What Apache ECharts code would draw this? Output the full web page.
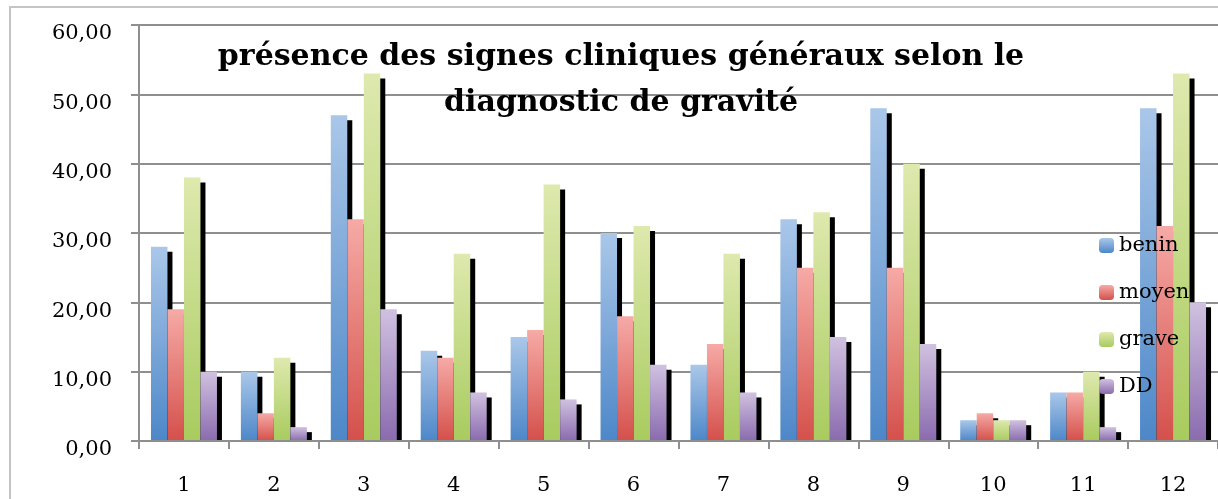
<!DOCTYPE html>
<html>
<head>
<meta charset="utf-8">
<script src="https://cdn.jsdelivr.net/npm/echarts@6/dist/echarts.min.js"></script>
<style>
  html, body { margin: 0; padding: 0; background: #fff; }
  #chart { width: 1218px; height: 499px; }
</style>
</head>
<body>
<div id="chart"></div>
<script>
var categories = ['1', '2', '3', '4', '5', '6', '7', '8', '9', '10', '11', '12'];
var benin = [28, 10, 47, 13, 15, 30, 11, 32, 48, 3, 7, 48];
var moyen = [19, 4, 32, 12, 16, 18, 14, 25, 25, 4, 7, 31];
var grave = [38, 12, 53, 27, 37, 31, 27, 33, 40, 3, 10, 53];
var dd = [10, 2, 19, 7, 6, 11, 7, 15, 14, 3, 2, 20];
var titleLines = ['présence des signes cliniques généraux selon le', 'diagnostic de gravité'];

function grad(top, bottom) {
    return new echarts.graphic.LinearGradient(0, 0, 0, 1, [
        { offset: 0, color: top },
        { offset: 1, color: bottom }
    ]);
}

function makeSeries(name, data, top, bottom) {
    return {
        name: name,
        type: 'bar',
        data: data,
        barWidth: 16.5,
        barGap: '0%',
        itemStyle: {
            color: grad(top, bottom),
            shadowColor: '#000',
            shadowBlur: 0,
            shadowOffsetX: 5,
            shadowOffsetY: 5
        },
        emphasis: { disabled: true }
    };
}

var chart = echarts.init(document.getElementById('chart'));

chart.setOption({
    animation: false,
    backgroundColor: '#fff',
    title: {
        text: titleLines.join('\n'),
        left: 616,
        top: 29,
        textAlign: 'center',
        textStyle: {
            fontFamily: 'DejaVu Serif',
            fontWeight: 'bold',
            fontSize: 30,
            lineHeight: 46,
            color: '#000'
        }
    },
    legend: {
        orient: 'vertical',
        left: 1094,
        top: 230,
        itemWidth: 15,
        itemHeight: 15,
        itemGap: 26,
        textStyle: { fontFamily: 'DejaVu Serif', fontSize: 21, color: '#000' },
        itemStyle: { shadowBlur: 0, shadowOffsetX: 0, shadowOffsetY: 0, shadowColor: 'transparent' },
        data: ['benin', 'moyen', 'grave', 'DD']
    },
    graphic: [{
        type: 'rect',
        shape: { x: 10, y: 7, width: 1400, height: 700 },
        style: { fill: 'none', stroke: '#c4c4c4', lineWidth: 2 },
        z: -10
    }, {
        // hides the part of the bar shadows that falls under the x axis
        type: 'rect',
        shape: { x: 140, y: 442, width: 1100, height: 6 },
        style: { fill: '#fff' },
        z: 5
    }],
    grid: { left: 139, top: 25, right: 0, bottom: 58, containLabel: false },
    xAxis: {
        type: 'category',
        data: categories,
        zlevel: 1,
        axisLine: { show: true, lineStyle: { color: '#8f8f8f', width: 2 } },
        axisTick: { show: true, length: 8, alignWithLabel: false, lineStyle: { color: '#8f8f8f', width: 2 } },
        axisLabel: { fontFamily: 'DejaVu Serif', fontSize: 21, color: '#000', margin: 34 }
    },
    yAxis: {
        type: 'value',
        min: 0,
        max: 60,
        interval: 10,
        axisLine: { show: true, lineStyle: { color: '#8f8f8f', width: 2 } },
        axisTick: { show: true, length: 8, lineStyle: { color: '#8f8f8f', width: 2 } },
        splitLine: { lineStyle: { color: '#8f8f8f', width: 2 } },
        axisLabel: {
            fontFamily: 'DejaVu Serif',
            fontSize: 21,
            color: '#000',
            margin: 27,
            verticalAlign: 'top',
            lineHeight: 18,
            formatter: function (v) { return v.toFixed(2).replace('.', ','); }
        }
    },
    series: [
        makeSeries('benin', benin, '#aac7e9', '#4d87c8'),
        makeSeries('moyen', moyen, '#f6aaa6', '#d4504b'),
        makeSeries('grave', grave, '#dee9ae', '#a8cb5e'),
        makeSeries('DD', dd, '#d0c1e0', '#8a6bae')
    ]
});
</script>
</body>
</html>
